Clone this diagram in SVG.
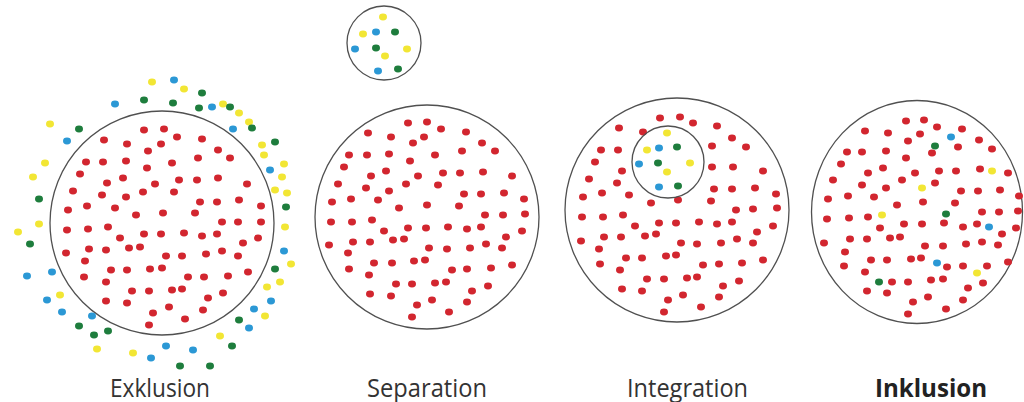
<svg xmlns="http://www.w3.org/2000/svg" xmlns:xlink="http://www.w3.org/1999/xlink" width="1024" height="402" viewBox="0 0 1024 402">
<style>
.r{fill:#d2262f}.y{fill:#f2e634}.b{fill:#2b98d5}.g{fill:#1e7d3d}
.ring{fill:none;stroke:#505050;stroke-width:1.3}
.lbl{font-family:"Open Sans","Liberation Sans",sans-serif;font-size:25px;fill:#333}
.bold{font-weight:bold;fill:#222}
</style>
<defs><ellipse id="d" rx="4" ry="3.4"/></defs>
<rect width="1024" height="402" fill="#fff"/>
<g id="exklusion">
<circle class="ring" cx="162" cy="223" r="112"/>
<g class="r">
<use href="#d" x="144" y="130"/><use href="#d" x="164" y="129"/><use href="#d" x="177" y="137"/><use href="#d" x="202" y="139"/><use href="#d" x="104" y="140"/><use href="#d" x="127" y="144"/><use href="#d" x="148" y="151"/><use href="#d" x="161" y="144"/><use href="#d" x="218" y="150"/><use href="#d" x="198" y="158"/><use href="#d" x="230" y="158"/><use href="#d" x="86" y="162"/><use href="#d" x="103" y="162"/><use href="#d" x="126" y="161"/><use href="#d" x="172" y="163"/><use href="#d" x="147" y="168"/><use href="#d" x="80" y="174"/><use href="#d" x="123" y="178"/><use href="#d" x="107" y="183"/><use href="#d" x="155" y="184"/><use href="#d" x="179" y="180"/><use href="#d" x="197" y="180"/><use href="#d" x="218" y="178"/><use href="#d" x="247" y="184"/><use href="#d" x="73" y="191"/><use href="#d" x="102" y="195"/><use href="#d" x="126" y="197"/><use href="#d" x="143" y="192"/><use href="#d" x="174" y="192"/><use href="#d" x="200" y="202"/><use href="#d" x="217" y="202"/><use href="#d" x="239" y="200"/><use href="#d" x="261" y="206"/><use href="#d" x="68" y="210"/><use href="#d" x="87" y="206"/><use href="#d" x="115" y="208"/><use href="#d" x="136" y="215"/><use href="#d" x="163" y="213"/><use href="#d" x="195" y="213"/><use href="#d" x="222" y="222"/><use href="#d" x="238" y="222"/><use href="#d" x="261" y="222"/><use href="#d" x="67" y="230"/><use href="#d" x="88" y="229"/><use href="#d" x="108" y="227"/><use href="#d" x="120" y="238"/><use href="#d" x="144" y="234"/><use href="#d" x="161" y="234"/><use href="#d" x="184" y="233"/><use href="#d" x="202" y="236"/><use href="#d" x="217" y="234"/><use href="#d" x="243" y="243"/><use href="#d" x="258" y="238"/><use href="#d" x="66" y="253"/><use href="#d" x="89" y="249"/><use href="#d" x="106" y="250"/><use href="#d" x="129" y="248"/><use href="#d" x="140" y="247"/><use href="#d" x="166" y="256"/><use href="#d" x="182" y="256"/><use href="#d" x="206" y="254"/><use href="#d" x="222" y="251"/><use href="#d" x="238" y="256"/><use href="#d" x="85" y="261"/><use href="#d" x="111" y="270"/><use href="#d" x="127" y="270"/><use href="#d" x="150" y="269"/><use href="#d" x="162" y="268"/><use href="#d" x="188" y="277"/><use href="#d" x="204" y="277"/><use href="#d" x="228" y="276"/><use href="#d" x="248" y="272"/><use href="#d" x="84" y="277"/><use href="#d" x="106" y="282"/><use href="#d" x="132" y="291"/><use href="#d" x="149" y="291"/><use href="#d" x="172" y="290"/><use href="#d" x="182" y="289"/><use href="#d" x="208" y="298"/><use href="#d" x="223" y="293"/><use href="#d" x="106" y="301"/><use href="#d" x="127" y="303"/><use href="#d" x="153" y="313"/><use href="#d" x="169" y="307"/><use href="#d" x="203" y="310"/><use href="#d" x="185" y="319"/><use href="#d" x="149" y="325"/>
</g>
<g class="y">
<use href="#d" x="152" y="82"/><use href="#d" x="184" y="89"/><use href="#d" x="223" y="104"/><use href="#d" x="239" y="113"/><use href="#d" x="249" y="122"/><use href="#d" x="262" y="145"/><use href="#d" x="264" y="155"/><use href="#d" x="284" y="164"/><use href="#d" x="282" y="177"/><use href="#d" x="275" y="190"/><use href="#d" x="287" y="193"/><use href="#d" x="285" y="227"/><use href="#d" x="291" y="264"/><use href="#d" x="280" y="282"/><use href="#d" x="267" y="287"/><use href="#d" x="265" y="316"/><use href="#d" x="220" y="336"/><use href="#d" x="50" y="124"/><use href="#d" x="45" y="163"/><use href="#d" x="33" y="177"/><use href="#d" x="39" y="224"/><use href="#d" x="18" y="232"/><use href="#d" x="60" y="295"/><use href="#d" x="97" y="349"/><use href="#d" x="133" y="353"/>
</g>
<g class="b">
<use href="#d" x="174" y="80"/><use href="#d" x="115" y="104"/><use href="#d" x="212" y="107"/><use href="#d" x="233" y="129"/><use href="#d" x="67" y="141"/><use href="#d" x="270" y="170"/><use href="#d" x="284" y="251"/><use href="#d" x="271" y="301"/><use href="#d" x="254" y="309"/><use href="#d" x="249" y="328"/><use href="#d" x="27" y="276"/><use href="#d" x="52" y="272"/><use href="#d" x="47" y="300"/><use href="#d" x="62" y="312"/><use href="#d" x="92" y="316"/><use href="#d" x="166" y="346"/><use href="#d" x="193" y="350"/><use href="#d" x="151" y="358"/>
</g>
<g class="g">
<use href="#d" x="202" y="93"/><use href="#d" x="144" y="100"/><use href="#d" x="173" y="103"/><use href="#d" x="199" y="108"/><use href="#d" x="230" y="107"/><use href="#d" x="252" y="128"/><use href="#d" x="275" y="142"/><use href="#d" x="79" y="129"/><use href="#d" x="39" y="199"/><use href="#d" x="286" y="207"/><use href="#d" x="30" y="244"/><use href="#d" x="275" y="269"/><use href="#d" x="239" y="320"/><use href="#d" x="232" y="346"/><use href="#d" x="79" y="326"/><use href="#d" x="94" y="335"/><use href="#d" x="108" y="331"/><use href="#d" x="180" y="366"/><use href="#d" x="210" y="366"/>
</g>
</g>
<g id="separation">
<circle class="ring" cx="427" cy="217" r="112"/>
<g class="r">
<use href="#d" x="408" y="123"/><use href="#d" x="427" y="122"/><use href="#d" x="441" y="129"/><use href="#d" x="466" y="132"/><use href="#d" x="368" y="133"/><use href="#d" x="391" y="137"/><use href="#d" x="424" y="137"/><use href="#d" x="413" y="143"/><use href="#d" x="482" y="143"/><use href="#d" x="495" y="151"/><use href="#d" x="349" y="155"/><use href="#d" x="367" y="155"/><use href="#d" x="389" y="154"/><use href="#d" x="410" y="161"/><use href="#d" x="435" y="155"/><use href="#d" x="462" y="151"/><use href="#d" x="344" y="167"/><use href="#d" x="386" y="171"/><use href="#d" x="371" y="176"/><use href="#d" x="418" y="176"/><use href="#d" x="443" y="173"/><use href="#d" x="460" y="173"/><use href="#d" x="483" y="172"/><use href="#d" x="512" y="176"/><use href="#d" x="338" y="184"/><use href="#d" x="366" y="188"/><use href="#d" x="389" y="191"/><use href="#d" x="406" y="184"/><use href="#d" x="438" y="185"/><use href="#d" x="464" y="194"/><use href="#d" x="481" y="194"/><use href="#d" x="504" y="193"/><use href="#d" x="524" y="199"/><use href="#d" x="332" y="202"/><use href="#d" x="351" y="199"/><use href="#d" x="378" y="200"/><use href="#d" x="399" y="208"/><use href="#d" x="427" y="205"/><use href="#d" x="459" y="206"/><use href="#d" x="485" y="215"/><use href="#d" x="503" y="215"/><use href="#d" x="525" y="214"/><use href="#d" x="331" y="222"/><use href="#d" x="352" y="222"/><use href="#d" x="372" y="220"/><use href="#d" x="384" y="231"/><use href="#d" x="408" y="228"/><use href="#d" x="426" y="228"/><use href="#d" x="448" y="227"/><use href="#d" x="467" y="229"/><use href="#d" x="481" y="227"/><use href="#d" x="506" y="237"/><use href="#d" x="522" y="231"/><use href="#d" x="329" y="245"/><use href="#d" x="353" y="242"/><use href="#d" x="370" y="242"/><use href="#d" x="393" y="240"/><use href="#d" x="404" y="239"/><use href="#d" x="429" y="248"/><use href="#d" x="447" y="249"/><use href="#d" x="470" y="248"/><use href="#d" x="486" y="244"/><use href="#d" x="502" y="248"/><use href="#d" x="348" y="253"/><use href="#d" x="349" y="269"/><use href="#d" x="374" y="263"/><use href="#d" x="392" y="263"/><use href="#d" x="414" y="261"/><use href="#d" x="425" y="260"/><use href="#d" x="452" y="270"/><use href="#d" x="467" y="269"/><use href="#d" x="491" y="268"/><use href="#d" x="512" y="265"/><use href="#d" x="369" y="275"/><use href="#d" x="396" y="284"/><use href="#d" x="412" y="284"/><use href="#d" x="435" y="283"/><use href="#d" x="446" y="282"/><use href="#d" x="472" y="291"/><use href="#d" x="488" y="286"/><use href="#d" x="370" y="294"/><use href="#d" x="391" y="296"/><use href="#d" x="417" y="305"/><use href="#d" x="432" y="300"/><use href="#d" x="467" y="302"/><use href="#d" x="412" y="317"/><use href="#d" x="449" y="312"/>
</g>
</g>
<g id="separation-group">
<circle class="ring" cx="384" cy="43" r="37"/>
<g class="y"><use href="#d" x="383" y="17"/><use href="#d" x="363" y="34"/><use href="#d" x="407" y="49"/><use href="#d" x="385" y="56"/></g>
<g class="b"><use href="#d" x="376" y="32"/><use href="#d" x="355" y="49"/><use href="#d" x="378" y="71"/></g>
<g class="g"><use href="#d" x="395" y="32"/><use href="#d" x="376" y="48"/><use href="#d" x="398" y="69"/></g>
</g>
<g id="integration">
<circle class="ring" cx="677" cy="210" r="112"/>
<g class="r">
<use href="#d" x="660" y="118"/><use href="#d" x="680" y="117"/><use href="#d" x="693" y="123"/><use href="#d" x="717" y="126"/><use href="#d" x="619" y="128"/><use href="#d" x="643" y="132"/><use href="#d" x="732" y="138"/><use href="#d" x="746" y="147"/><use href="#d" x="601" y="150"/><use href="#d" x="618" y="150"/><use href="#d" x="712" y="146"/><use href="#d" x="595" y="162"/><use href="#d" x="622" y="171"/><use href="#d" x="712" y="167"/><use href="#d" x="733" y="167"/><use href="#d" x="763" y="171"/><use href="#d" x="589" y="179"/><use href="#d" x="617" y="183"/><use href="#d" x="714" y="189"/><use href="#d" x="732" y="189"/><use href="#d" x="755" y="188"/><use href="#d" x="776" y="194"/><use href="#d" x="583" y="197"/><use href="#d" x="602" y="193"/><use href="#d" x="629" y="195"/><use href="#d" x="651" y="203"/><use href="#d" x="678" y="200"/><use href="#d" x="711" y="201"/><use href="#d" x="736" y="210"/><use href="#d" x="753" y="209"/><use href="#d" x="777" y="208"/><use href="#d" x="582" y="217"/><use href="#d" x="603" y="217"/><use href="#d" x="623" y="215"/><use href="#d" x="635" y="226"/><use href="#d" x="659" y="223"/><use href="#d" x="676" y="223"/><use href="#d" x="699" y="222"/><use href="#d" x="717" y="224"/><use href="#d" x="732" y="222"/><use href="#d" x="757" y="232"/><use href="#d" x="773" y="226"/><use href="#d" x="581" y="241"/><use href="#d" x="604" y="237"/><use href="#d" x="621" y="237"/><use href="#d" x="645" y="236"/><use href="#d" x="656" y="234"/><use href="#d" x="681" y="243"/><use href="#d" x="697" y="244"/><use href="#d" x="721" y="243"/><use href="#d" x="737" y="239"/><use href="#d" x="753" y="243"/><use href="#d" x="599" y="249"/><use href="#d" x="600" y="264"/><use href="#d" x="626" y="258"/><use href="#d" x="642" y="258"/><use href="#d" x="666" y="256"/><use href="#d" x="676" y="255"/><use href="#d" x="703" y="265"/><use href="#d" x="719" y="264"/><use href="#d" x="742" y="263"/><use href="#d" x="763" y="260"/><use href="#d" x="620" y="270"/><use href="#d" x="647" y="279"/><use href="#d" x="664" y="279"/><use href="#d" x="687" y="278"/><use href="#d" x="697" y="277"/><use href="#d" x="723" y="286"/><use href="#d" x="739" y="281"/><use href="#d" x="622" y="289"/><use href="#d" x="642" y="291"/><use href="#d" x="668" y="300"/><use href="#d" x="683" y="295"/><use href="#d" x="719" y="297"/><use href="#d" x="664" y="312"/><use href="#d" x="701" y="307"/>
</g>
<circle class="ring" cx="668" cy="162" r="36"/>
<g class="y"><use href="#d" x="667" y="133"/><use href="#d" x="647" y="150"/><use href="#d" x="690" y="163"/><use href="#d" x="667" y="172"/></g>
<g class="b"><use href="#d" x="659" y="148"/><use href="#d" x="639" y="164"/><use href="#d" x="659" y="187"/></g>
<g class="g"><use href="#d" x="677" y="147"/><use href="#d" x="658" y="163"/><use href="#d" x="678" y="186"/></g>
</g>
<g id="inklusion">
<ellipse class="ring" cx="917" cy="212" rx="105.5" ry="111.5"/>
<g class="r">
<use href="#d" x="906" y="121"/><use href="#d" x="924" y="120"/><use href="#d" x="937" y="127"/><use href="#d" x="962" y="129"/><use href="#d" x="865" y="131"/><use href="#d" x="888" y="133"/><use href="#d" x="908" y="141"/><use href="#d" x="920" y="134"/><use href="#d" x="979" y="140"/><use href="#d" x="992" y="149"/><use href="#d" x="847" y="152"/><use href="#d" x="862" y="152"/><use href="#d" x="886" y="151"/><use href="#d" x="906" y="158"/><use href="#d" x="932" y="153"/><use href="#d" x="958" y="147"/><use href="#d" x="841" y="164"/><use href="#d" x="883" y="168"/><use href="#d" x="868" y="173"/><use href="#d" x="915" y="173"/><use href="#d" x="939" y="171"/><use href="#d" x="956" y="171"/><use href="#d" x="980" y="169"/><use href="#d" x="1008" y="173"/><use href="#d" x="833" y="180"/><use href="#d" x="862" y="185"/><use href="#d" x="886" y="188"/><use href="#d" x="902" y="180"/><use href="#d" x="935" y="183"/><use href="#d" x="961" y="191"/><use href="#d" x="978" y="191"/><use href="#d" x="1000" y="190"/><use href="#d" x="1019" y="196"/><use href="#d" x="828" y="199"/><use href="#d" x="848" y="196"/><use href="#d" x="874" y="197"/><use href="#d" x="897" y="205"/><use href="#d" x="923" y="202"/><use href="#d" x="955" y="203"/><use href="#d" x="982" y="212"/><use href="#d" x="999" y="212"/><use href="#d" x="1018" y="211"/><use href="#d" x="827" y="219"/><use href="#d" x="849" y="218"/><use href="#d" x="868" y="217"/><use href="#d" x="880" y="228"/><use href="#d" x="904" y="224"/><use href="#d" x="922" y="224"/><use href="#d" x="944" y="223"/><use href="#d" x="963" y="227"/><use href="#d" x="977" y="224"/><use href="#d" x="1002" y="234"/><use href="#d" x="1016" y="228"/><use href="#d" x="824" y="243"/><use href="#d" x="850" y="239"/><use href="#d" x="867" y="239"/><use href="#d" x="890" y="238"/><use href="#d" x="900" y="237"/><use href="#d" x="925" y="246"/><use href="#d" x="943" y="246"/><use href="#d" x="966" y="244"/><use href="#d" x="982" y="242"/><use href="#d" x="998" y="245"/><use href="#d" x="845" y="252"/><use href="#d" x="844" y="266"/><use href="#d" x="871" y="260"/><use href="#d" x="887" y="260"/><use href="#d" x="911" y="259"/><use href="#d" x="921" y="258"/><use href="#d" x="947" y="267"/><use href="#d" x="963" y="266"/><use href="#d" x="987" y="266"/><use href="#d" x="1008" y="262"/><use href="#d" x="865" y="272"/><use href="#d" x="892" y="282"/><use href="#d" x="908" y="282"/><use href="#d" x="931" y="280"/><use href="#d" x="943" y="279"/><use href="#d" x="968" y="288"/><use href="#d" x="983" y="283"/><use href="#d" x="867" y="291"/><use href="#d" x="887" y="293"/><use href="#d" x="913" y="302"/><use href="#d" x="928" y="297"/><use href="#d" x="963" y="300"/><use href="#d" x="908" y="314"/><use href="#d" x="946" y="309"/>
</g>
<g class="b"><use href="#d" x="951" y="137"/><use href="#d" x="989" y="227"/><use href="#d" x="937" y="263"/></g>
<g class="g"><use href="#d" x="935" y="146"/><use href="#d" x="946" y="214"/><use href="#d" x="879" y="282"/></g>
<g class="y"><use href="#d" x="992" y="171"/><use href="#d" x="922" y="188"/><use href="#d" x="882" y="215"/><use href="#d" x="977" y="273"/></g>
</g>
<g id="labels">
<text class="lbl" x="110" y="397" textLength="100" lengthAdjust="spacingAndGlyphs">Exklusion</text>
<text class="lbl" x="367" y="397" textLength="120" lengthAdjust="spacingAndGlyphs">Separation</text>
<text class="lbl" x="627" y="397" textLength="121" lengthAdjust="spacingAndGlyphs">Integration</text>
<text class="lbl bold" x="875" y="397" textLength="112" lengthAdjust="spacingAndGlyphs">Inklusion</text>
</g>
</svg>
